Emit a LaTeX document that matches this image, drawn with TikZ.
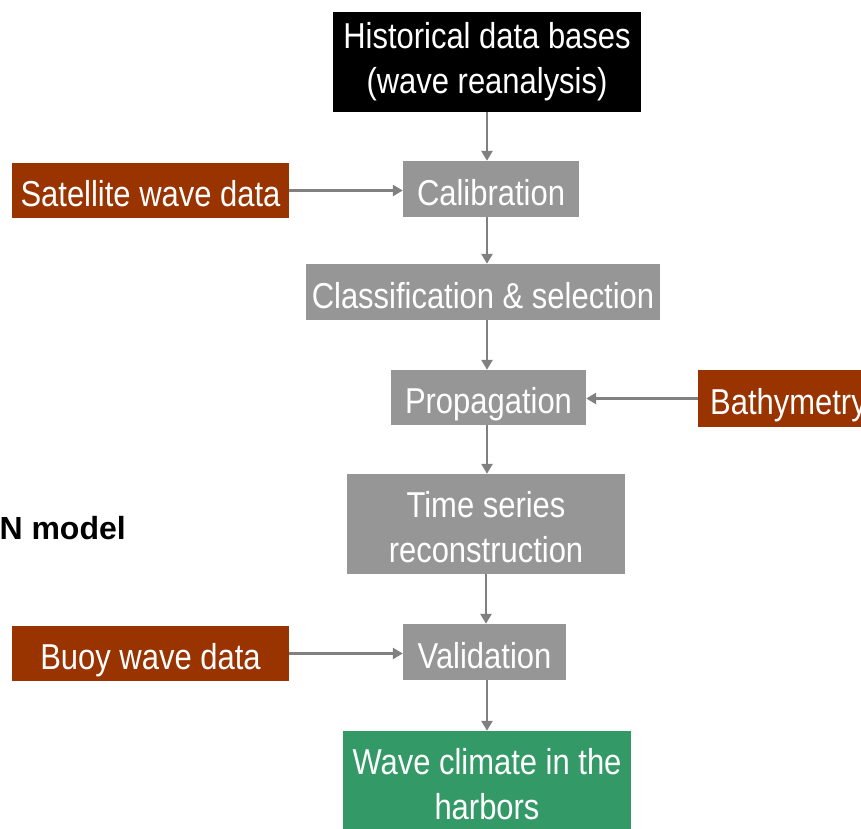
\documentclass[tikz,border=0pt]{standalone}
\usepackage{fontspec}
\setsansfont{Liberation Sans}[FakeStretch=0.86]
\newfontfamily\notefont{Liberation Sans}
\usepackage{tikz}
\usetikzlibrary{arrows.meta,positioning}
\definecolor{rust}{RGB}{153,51,0}
\definecolor{stone}{RGB}{150,150,150}
\definecolor{sea}{RGB}{51,153,102}
\definecolor{wire}{RGB}{128,128,128}

\begin{document}
\begin{tikzpicture}[x=1pt,y=-1pt,
  font=\sffamily\fontsize{36}{45}\selectfont,
  stage/.style={fill=stone,text=white,inner sep=0pt,align=center},
  src/.style={fill=rust,text=white,inner sep=0pt,align=center},
  db/.style={fill=black,text=white,inner sep=0pt,align=center},
  result/.style={fill=sea,text=white,inner sep=0pt,align=center},
  oneline/.style={text height=33pt,text depth=1pt},
  twoline/.style={text height=77pt,text depth=0pt},
  ar/.style={-{Triangle[length=10pt,width=11pt]},line width=2.5pt,draw=wire}]

\useasboundingbox (0,0) rectangle (861,828);
\clip (0,0) rectangle (861,828);
\coordinate (spine) at (487,0);

\node[db,minimum width=308pt,minimum height=100pt] (hist) at (487,62)
  {Historical data bases\\(wave reanalysis)};
\node[src,oneline,minimum width=277pt,minimum height=55pt] (sat) at (150.5,190.5)
  {Satellite wave data};
\node[stage,oneline,minimum width=176pt,minimum height=56pt] (calib) at (491,189)
  {Calibration};
\node[stage,oneline,minimum width=354pt,minimum height=56pt] (classif) at (483,292)
  {Classification \& selection};
\node[stage,oneline,minimum width=195pt,minimum height=55pt] (prop) at (488.5,397.5)
  {Propagation};
\node[src,oneline,anchor=west,inner xsep=12pt,minimum height=57pt] (bathy) at (698,398.5)
  {Bathymetry};
\node[stage,twoline,minimum width=278pt,minimum height=100pt] (tsr) at (486,524)
  {Time series\\reconstruction};
\node[anchor=east,inner sep=0pt,font=\notefont\bfseries\fontsize{32}{38}\selectfont] (note) at (126,528)
  {N model};
\node[src,oneline,minimum width=277pt,minimum height=55pt] (buoy) at (150.5,653.5)
  {Buoy wave data};
\node[stage,oneline,minimum width=163pt,minimum height=56pt] (valid) at (484.5,652)
  {Validation};
\node[result,twoline,minimum width=288pt,minimum height=100pt] (clim) at (487,781)
  {Wave climate in the\\harbors};

\draw[ar] (hist.south) -- (hist.south |- calib.north);
\draw[ar] (sat.east) -- (sat.east -| calib.west);
\draw[ar] (spine |- calib.south) -- (spine |- classif.north);
\draw[ar] (spine |- classif.south) -- (spine |- prop.north);
\draw[ar] (bathy.west) -- (bathy.west -| prop.east);
\draw[ar] (spine |- prop.south) -- (spine |- tsr.north);
\draw[ar] (tsr.south) -- (tsr.south |- valid.north);
\draw[ar] (buoy.east) -- (buoy.east -| valid.west);
\draw[ar] (spine |- valid.south) -- (spine |- clim.north);
\end{tikzpicture}
\end{document}
